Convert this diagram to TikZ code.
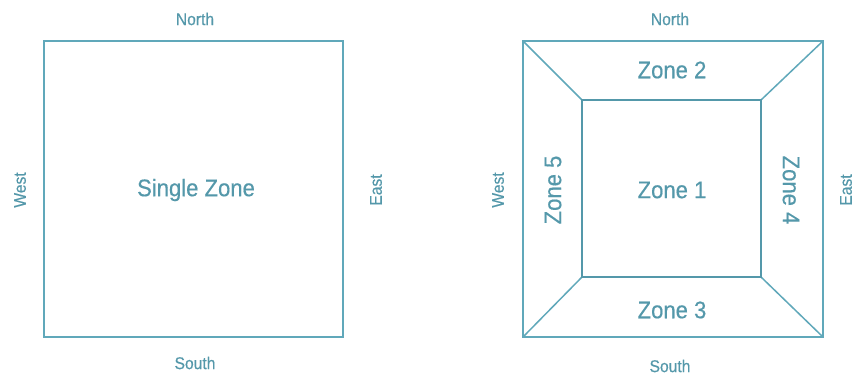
\documentclass[tikz,border=0pt]{standalone}
\usepackage{fontspec}
\setmainfont[FakeStretch=0.92,FakeBold=0.4]{Liberation Sans}
\definecolor{teal1}{RGB}{84,152,170}
\definecolor{teal2}{RGB}{96,168,186}
\begin{document}
\begin{tikzpicture}[x=1pt,y=1pt,
  edge/.style={draw=teal2,line width=1.5pt,line join=miter},
  inner/.style={draw=teal1,line width=2pt},
  dirlbl/.style={text=teal1,font=\fontsize{17}{20}\selectfont,inner sep=0pt},
  zonelbl/.style={text=teal1,font=\fontsize{24}{28}\selectfont,inner sep=0pt}]
\useasboundingbox (0,0) rectangle (856,378);
\fill[white] (0,0) rectangle (856,378);
% left square
\coordinate (L1) at (44,337);
\coordinate (L2) at (343,41);
\draw[edge] (L1) rectangle (L2);
\node[zonelbl] (single) at (196,188) {Single Zone};
\node[dirlbl] (ln) at (195,359) {North};
\node[dirlbl] (ls) at (195,15) {South};
\node[dirlbl,rotate=90] (lw) at (20,188) {West};
\node[dirlbl,rotate=90] (le) at (376,188) {East};
% right square
\coordinate (o1) at (523,337);
\coordinate (o2) at (823,337);
\coordinate (o3) at (823,41);
\coordinate (o4) at (523,41);
\coordinate (i1) at (582,278);
\coordinate (i2) at (761,278);
\coordinate (i3) at (761,101);
\coordinate (i4) at (582,101);
\draw[edge] (o1) -- (o2) -- (o3) -- (o4) -- cycle;
\draw[edge] (o1) -- (i1);
\draw[edge] (o2) -- (i2);
\draw[edge] (o3) -- (i3);
\draw[edge] (o4) -- (i4);
\draw[inner] (i1) -- (i2) -- (i3) -- (i4) -- cycle;
\node[zonelbl] (z1) at (672,188) {Zone 1};
\node[zonelbl] (z2) at (672,308) {Zone 2};
\node[zonelbl] (z3) at (672,68) {Zone 3};
\node[zonelbl,rotate=-90] (z4) at (791,188) {Zone 4};
\node[zonelbl,rotate=90] (z5) at (553,188) {Zone 5};
\node[dirlbl] (rn) at (670,359) {North};
\node[dirlbl] (rs) at (670,12) {South};
\node[dirlbl,rotate=90] (rw) at (498,188) {West};
\node[dirlbl,rotate=90] (re) at (846,188) {East};
\end{tikzpicture}
\end{document}
